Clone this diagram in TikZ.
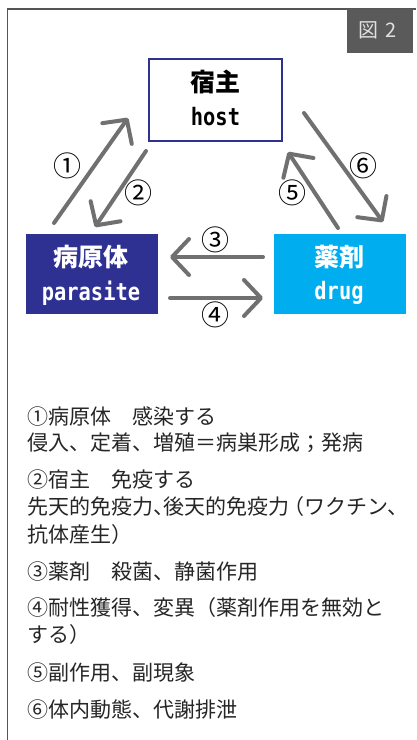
\documentclass[tikz,border=0pt]{standalone}
\usepackage{fontspec}
\usetikzlibrary{arrows.meta}
\newfontfamily\jp{Noto Sans CJK JP}
\newfontfamily\mono{DejaVu Sans Mono}[FakeStretch=0.85]
\definecolor{navy}{HTML}{2E3192}
\definecolor{cyanbox}{HTML}{00AEEF}
\definecolor{arrowgray}{HTML}{707070}
\definecolor{framegray}{HTML}{555555}
\definecolor{tabgray}{HTML}{5A5A5A}
\tikzset{
  box/.style={rectangle, minimum width=132pt, minimum height=80pt, inner sep=0pt},
  jpbold/.style={font=\jp\bfseries\fontsize{25}{25}\selectfont, inner sep=0pt},
  latinbold/.style={font=\mono\bfseries\fontsize{24}{24}\selectfont, inner sep=0pt},
  flow/.style={draw=arrowgray, line width=4pt, line cap=round,
    -{Straight Barb[length=17pt,width=36pt,round]}},
  numlabel/.style={font=\jp\fontsize{28}{28}\selectfont, inner sep=0pt, text=black},
  bodytext/.style={font=\jp\fontsize{21}{21}\selectfont, inner sep=0pt, anchor=west, text=black!85}
}
\begin{document}
\begin{tikzpicture}[x=1pt,y=-1pt]
\useasboundingbox (0,0) rectangle (416,740);
\fill[white] (0,0) rectangle (416,740);
% frame
\draw[framegray, line width=1.5pt] (7.5,740) -- (7.5,9) -- (416,9);
% tab
\node[fill=tabgray, minimum width=66pt, minimum height=44pt, inner sep=0pt] (tab) at (380,31) {};
\node[font=\jp\fontsize{20}{20}\selectfont, text=white!88!black, inner sep=0pt] (tabtext) at (378,30) {図\kern7pt 2};
% boxes
\node[box, draw=navy, line width=1.5pt, minimum width=133pt, minimum height=82pt] (host) at (215.5,100) {};
\node[jpbold] (hostjp) at (215.5,82) {宿主};
\node[latinbold, text=black] (hosten) at (215.5,117) {host};
\node[box, fill=navy] (para) at (92,274) {};
\node[jpbold, text=white] (parajp) at (91,257) {病原体};
\node[latinbold, text=white] (paraen) at (91,293) {parasite};
\node[box, fill=cyanbox] (drug) at (340,274) {};
\node[jpbold, text=white] (drugjp) at (339,257) {薬剤};
\node[latinbold, text=white] (drugen) at (339,293) {drug};
% arrow end points
\coordinate (a1s) at (54,223);  \coordinate (a1e) at (128,118);
\coordinate (a2s) at (146,151); \coordinate (a2e) at (95,227);
\coordinate (a3s) at (263,257); \coordinate (a3e) at (170,257);
\coordinate (a4s) at (170,298); \coordinate (a4e) at (263,298);
\coordinate (a5s) at (338,228); \coordinate (a5e) at (288,152);
\coordinate (a6s) at (304,113); \coordinate (a6e) at (383,222);
\draw[flow] (a1s) -- (a1e);
\draw[flow] (a2s) -- (a2e);
\draw[flow] (a3s) -- (a3e);
\draw[flow] (a4s) -- (a4e);
\draw[flow] (a5s) -- (a5e);
\draw[flow] (a6s) -- (a6e);
% labels
\node[numlabel] (n1) at (67,166) {①};
\node[numlabel] (n2) at (138,193) {②};
\node[numlabel] (n3) at (215,240) {③};
\node[numlabel] (n4) at (215,315) {④};
\node[numlabel] (n5) at (292,193) {⑤};
\node[numlabel] (n6) at (363,166) {⑥};
% text
\node[bodytext] (t1) at (27,417) {①病原体　感染する};
\node[bodytext] (t2) at (27,443) {侵入、定着、増殖＝病巣形成；発病};
\node[bodytext] (t3) at (27,480) {②宿主　免疫する};
\node[bodytext] (t4) at (27,507) {先天的免疫力、\kern-0.5em 後天的免疫力\kern-0.3em（ワクチン、};
\node[bodytext] (t5) at (27,535) {抗体産生）};
\node[bodytext] (t6) at (27,572) {③薬剤　殺菌、静菌作用};
\node[bodytext] (t7) at (27,608) {④耐性獲得、変異（薬剤作用を無効と};
\node[bodytext] (t8) at (27,635) {する）};
\node[bodytext] (t9) at (27,673) {⑤副作用、副現象};
\node[bodytext] (t10) at (27,710) {⑥体内動態、代謝排泄};
\end{tikzpicture}
\end{document}
